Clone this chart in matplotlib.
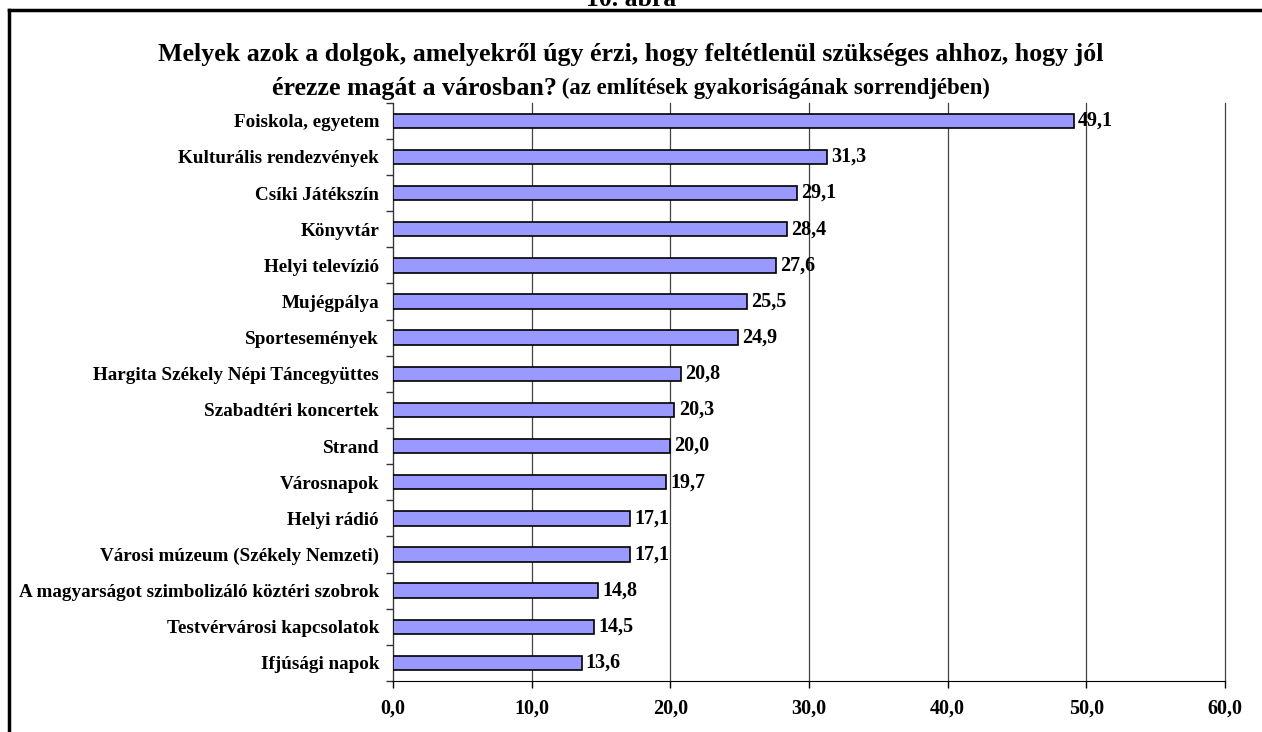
import matplotlib
matplotlib.use("Agg")
import matplotlib.pyplot as plt
from matplotlib.lines import Line2D

categories = [
    "Foiskola, egyetem",
    "Kulturális rendezvények",
    "Csíki Játékszín",
    "Könyvtár",
    "Helyi televízió",
    "Mujégpálya",
    "Sportesemények",
    "Hargita Székely Népi Táncegyüttes",
    "Szabadtéri koncertek",
    "Strand",
    "Városnapok",
    "Helyi rádió",
    "Városi múzeum (Székely Nemzeti)",
    "A magyarságot szimbolizáló köztéri szobrok",
    "Testvérvárosi kapcsolatok",
    "Ifjúsági napok",
]
values = [49.1, 31.3, 29.1, 28.4, 27.6, 25.5, 24.9, 20.8, 20.3, 20.0, 19.7, 17.1, 17.1, 14.8, 14.5, 13.6]
xticks = [0, 10, 20, 30, 40, 50, 60]

W, H = 1262, 732
plt.rcParams['font.family'] = ['Liberation Serif', 'DejaVu Serif']
plt.rcParams['font.weight'] = 'bold'

fig = plt.figure(figsize=(W / 100, H / 100), dpi=100)
ax = fig.add_axes([393 / W, 1 - 681 / H, (1225 - 393) / W, (681 - 102.7) / H])

n = len(categories)
ypos = list(range(n))
ax.barh(ypos, values, height=0.4, color='#9999FF', edgecolor='black', linewidth=1.2, zorder=3)
ax.set_ylim(n - 0.5, -0.5)
ax.set_xlim(0, 60)

ax.set_xticks(xticks)
ax.set_xticklabels([f"{v:.1f}".replace('.', ',') for v in xticks], fontsize=14.5, fontweight='bold')
ax.tick_params(axis='x', direction='out', length=5, width=1, pad=8, color='black')

ax.set_yticks(ypos)
ax.set_yticklabels(categories, fontsize=13.8, fontweight='bold')
ax.tick_params(axis='y', length=0, pad=10)
ax.set_yticks([i - 0.5 for i in range(n + 1)], minor=True)
ax.tick_params(axis='y', which='minor', direction='out', length=5, width=1, color='#333333')

ax.grid(axis='x', color='#444444', linewidth=0.9, zorder=0)
ax.set_axisbelow(True)
for gl in ax.get_xgridlines():
    gl.set_clip_on(False)
for s in ['top', 'right']:
    ax.spines[s].set_visible(False)
ax.spines['left'].set_color('#333333')
ax.spines['bottom'].set_color('black')

for y, v in zip(ypos, values):
    ax.annotate(f"{v:.1f}".replace('.', ','), xy=(v, y), xytext=(3, 0), textcoords='offset points',
                va='center', ha='left', fontsize=14.5, fontweight='bold')

# Title
fig.text(0.5, 1 - 55 / H, "Melyek azok a dolgok, amelyekről úgy érzi, hogy feltétlenül szükséges ahhoz, hogy jól",
         ha='center', va='center', fontsize=18.6, fontweight='bold')
t1 = fig.text(0, 1 - 88 / H, "érezze magát a városban?", ha='left', va='center', fontsize=18.6, fontweight='bold')
t2 = fig.text(0, 1 - 88 / H, " (az említések gyakoriságának sorrendjében)", ha='left', va='center', fontsize=16.4, fontweight='bold')
fig.canvas.draw()
r = fig.canvas.get_renderer()
w1 = t1.get_window_extent(r).width
w2 = t2.get_window_extent(r).width
x0 = (W - (w1 + w2)) / 2
t1.set_x(x0 / W)
t2.set_x((x0 + w1) / W)

fig.text(631 / W, 1 - 6 / H, "10. ábra", ha='center', va='baseline', fontsize=18.5, fontweight='bold')

# frame
fig.add_artist(Line2D([9 / W, 1.0], [1 - 10 / H, 1 - 10 / H], transform=fig.transFigure, color='black', linewidth=2.5))
fig.add_artist(Line2D([9 / W, 9 / W], [1 - 10 / H, 0], transform=fig.transFigure, color='black', linewidth=2.5))

fig.savefig("out.png", dpi=100)
